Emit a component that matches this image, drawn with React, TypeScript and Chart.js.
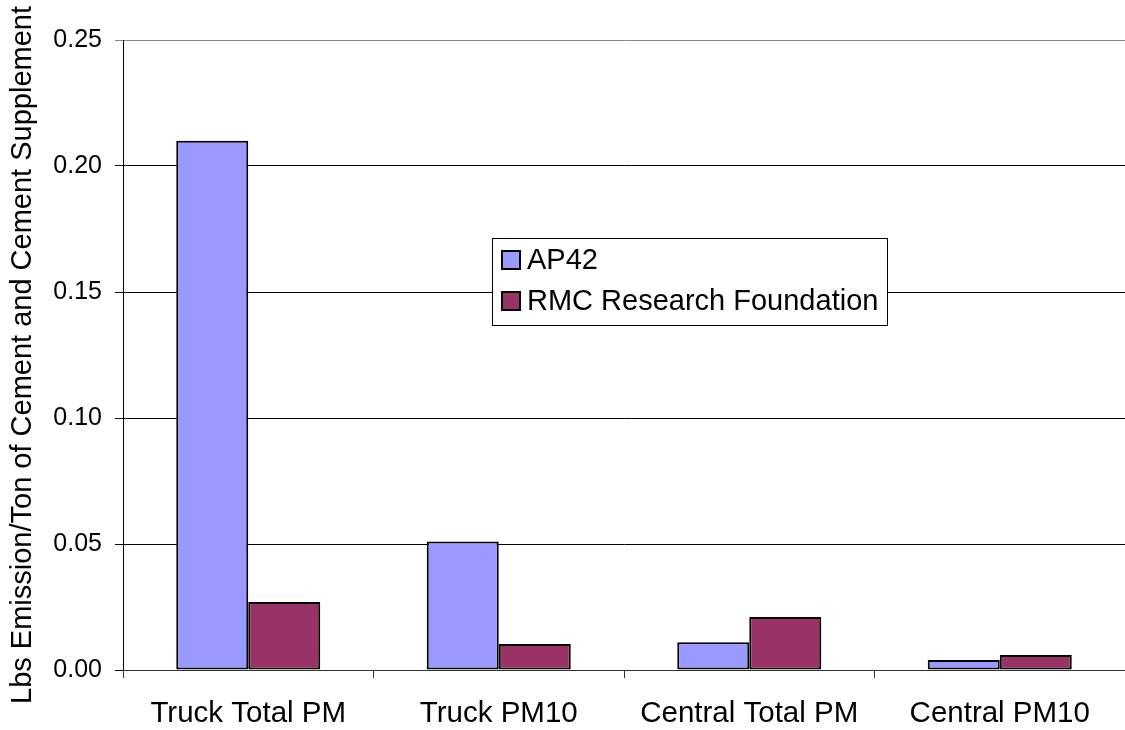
import React, { useEffect, useRef } from "react";
import { Chart, registerables } from "chart.js";

Chart.register(...registerables);

const categories = ["Truck Total PM", "Truck PM10", "Central Total PM", "Central PM10"];
const ap42Values = [0.21, 0.051, 0.011, 0.004];
const rmcValues = [0.027, 0.0103, 0.021, 0.006];
const seriesNames = ["AP42", "RMC Research Foundation"];
const seriesColors = ["#9999FF", "#993366"];
const yTitle = "Lbs Emission/Ton of Cement and Cement Supplement";
const FONT = "'Liberation Sans', Arial, sans-serif";

const boxLegend = {
  id: "boxLegend",
  afterDraw(chart: any) {
    const { ctx, chartArea } = chart;
    const left = chartArea.left + 369;
    const top = chartArea.top + 198;
    const w = 395;
    const h = 87;
    ctx.save();
    ctx.fillStyle = "#ffffff";
    ctx.fillRect(left, top, w, h);
    ctx.strokeStyle = "#000000";
    ctx.lineWidth = 1;
    ctx.strokeRect(left + 0.5, top + 0.5, w, h);
    ctx.font = `29px ${FONT}`;
    ctx.textBaseline = "middle";
    seriesNames.forEach((name, i) => {
      const cy = top + 22 + i * 41;
      ctx.fillStyle = seriesColors[i];
      ctx.fillRect(left + 10, cy - 9, 18, 18);
      ctx.strokeStyle = "#000000";
      ctx.lineWidth = 2;
      ctx.strokeRect(left + 10, cy - 9, 18, 18);
      ctx.fillStyle = "#000000";
      ctx.fillText(name, left + 35, cy + 1);
    });
    ctx.restore();
  },
};

export default function App() {
  const canvasRef = useRef<HTMLCanvasElement | null>(null);

  useEffect(() => {
    document.body.style.margin = "0";
    const canvas = canvasRef.current;
    if (!canvas) return;
    const chart = new Chart(canvas, {
      type: "bar",
      data: {
        labels: categories,
        datasets: [
          {
            label: seriesNames[0],
            data: ap42Values,
            backgroundColor: seriesColors[0],
            borderColor: "#000000",
            borderWidth: 2,
            borderSkipped: false,
            categoryPercentage: 0.575,
            barPercentage: 1,
          },
          {
            label: seriesNames[1],
            data: rmcValues,
            backgroundColor: seriesColors[1],
            borderColor: "#000000",
            borderWidth: 2,
            borderSkipped: false,
            categoryPercentage: 0.575,
            barPercentage: 1,
          },
        ],
      },
      options: {
        responsive: false,
        animation: false,
        devicePixelRatio: 1,
        layout: { padding: { top: 40, right: 0, bottom: 0, left: 0 } },
        plugins: {
          legend: { display: false },
          tooltip: { enabled: false },
        },
        scales: {
          x: {
            afterFit: (scale: any) => {
              scale.height = 60;
            },
            grid: {
              display: true,
              drawOnChartArea: false,
              drawTicks: true,
              tickLength: 8,
              color: "#333333",
              offset: true,
            },
            border: { display: true, color: "#333333", width: 1 },
            ticks: {
              color: "#000000",
              font: { family: FONT, size: 29.5 },
              padding: 18,
              maxRotation: 0,
            },
          },
          y: {
            min: 0,
            max: 0.25,
            afterFit: (scale: any) => {
              scale.width = 123;
            },
            grid: {
              color: (c: any) => (c.tick && c.tick.value === 0.25 ? "#888888" : "#000000"),
              lineWidth: 1,
              tickLength: 8,
              drawTicks: true,
            },
            border: { display: true, color: "#000000", width: 1 },
            ticks: {
              stepSize: 0.05,
              color: "#000000",
              font: { family: FONT, size: 25 },
              padding: 13,
              callback: (v: any) => Number(v).toFixed(2),
            },
            title: {
              display: true,
              text: yTitle,
              color: "#000000",
              font: { family: FONT, size: 29 },
              padding: { top: 6, bottom: 6 },
            },
          },
        },
      },
      plugins: [boxLegend],
    });
    return () => chart.destroy();
  }, []);

  return (
    <div style={{ width: 1125, height: 730, background: "#ffffff" }}>
      <canvas ref={canvasRef} width={1125} height={730} />
    </div>
  );
}
